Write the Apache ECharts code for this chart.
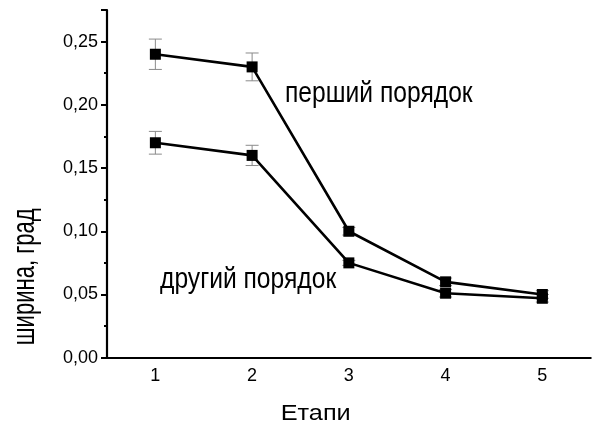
<!DOCTYPE html>
<html>
<head>
<meta charset="utf-8">
<style>
  html, body { margin: 0; padding: 0; background: #fff; }
  #chart { width: 592px; height: 427px; }
</style>
<script src="https://cdn.jsdelivr.net/npm/echarts@6/dist/echarts.min.js"></script>
</head>
<body>
<div id="chart"></div>
<script>
// Stages of the process (x axis categories)
const stages = ['1', '2', '3', '4', '5'];
// Line width, degrees: first order and its errors
const firstOrder = [0.24, 0.23, 0.10, 0.06, 0.05];
const firstErr = [0.012, 0.011, 0.003, 0.003, 0.003];
// Line width, degrees: second order and its errors
const secondOrder = [0.17, 0.16, 0.075, 0.051, 0.047];
const secondErr = [0.009, 0.008, 0.002, 0.003, 0.003];
// Y tick settings
const yMin = 0, yMax = 0.275, yStep = 0.05;

const FONT = "'Liberation Sans', Arial, sans-serif";

function errorBars(values, errs) {
  return {
    type: 'custom',
    z: 1,
    silent: true,
    data: values.map((v, i) => [i, v - errs[i], v + errs[i]]),
    renderItem: function (params, api) {
      const lo = api.coord([api.value(0), api.value(1)]);
      const hi = api.coord([api.value(0), api.value(2)]);
      const w = 6.5;
      const style = { stroke: '#8a8a8a', lineWidth: 1 };
      return {
        type: 'group',
        children: [
          { type: 'line', shape: { x1: lo[0], y1: lo[1], x2: hi[0], y2: hi[1] }, style: style },
          { type: 'line', shape: { x1: lo[0] - w, y1: lo[1], x2: lo[0] + w, y2: lo[1] }, style: style },
          { type: 'line', shape: { x1: hi[0] - w, y1: hi[1], x2: hi[0] + w, y2: hi[1] }, style: style }
        ]
      };
    }
  };
}

function lineSeries(values) {
  return {
    type: 'line',
    z: 3,
    data: values,
    symbol: 'rect',
    symbolSize: 11,
    showAllSymbol: true,
    itemStyle: { color: '#000' },
    lineStyle: { color: '#000', width: 2.6 },
    animation: false
  };
}

const chart = echarts.init(document.getElementById('chart'), null, { renderer: 'canvas' });
chart.setOption({
  animation: false,
  backgroundColor: '#fff',
  grid: { left: 107, right: 1.3, top: 10, bottom: 69.3 },
  xAxis: [
    {
      type: 'category',
      data: stages,
      boundaryGap: true,
      axisLine: { lineStyle: { color: '#000', width: 2.2 } },
      axisTick: { alignWithLabel: true, length: 7, lineStyle: { color: '#000', width: 2 } },
      axisLabel: { color: '#000', fontSize: 18, fontFamily: FONT, margin: 9 },
      splitLine: { show: false }
    },
    {
      // half-step ticks at band boundaries
      type: 'category',
      data: stages,
      position: 'bottom',
      boundaryGap: true,
      axisLine: { show: false },
      axisTick: { length: 4, lineStyle: { color: '#000', width: 2 } },
      axisLabel: { show: false },
      splitLine: { show: false }
    }
  ],
  yAxis: {
    type: 'value',
    min: yMin,
    max: yMax,
    interval: yStep,
    axisLine: { show: true, lineStyle: { color: '#000', width: 2.2 } },
    axisTick: { show: true, length: 6, lineStyle: { color: '#000', width: 2 } },
    minorTick: { show: true, splitNumber: 2, length: 3, lineStyle: { color: '#000', width: 2 } },
    axisLabel: {
      color: '#000', fontSize: 18, fontFamily: FONT, margin: 9,
      showMaxLabel: false,
      formatter: v => v.toFixed(2).replace('.', ',')
    },
    splitLine: { show: false }
  },
  series: [
    errorBars(firstOrder, firstErr),
    errorBars(secondOrder, secondErr),
    lineSeries(firstOrder),
    lineSeries(secondOrder)
  ],
  graphic: [
    {
      type: 'text', x: 285, y: 94, scaleX: 0.85,
      style: { text: 'перший порядок', fill: '#000', fontSize: 29, fontFamily: FONT, align: 'left', verticalAlign: 'middle' }
    },
    {
      type: 'text', x: 160, y: 280, scaleX: 0.85,
      style: { text: 'другий порядок', fill: '#000', fontSize: 29, fontFamily: FONT, align: 'left', verticalAlign: 'middle' }
    },
    {
      type: 'text', x: 315.7, y: 414, scaleX: 1.15,
      style: { text: 'Етапи', fill: '#000', fontSize: 22, fontFamily: FONT, align: 'center', verticalAlign: 'middle' }
    },
    {
      type: 'text', x: 25, y: 276.7, rotation: Math.PI / 2, scaleX: 0.69,
      style: { text: 'ширина, град', fill: '#000', fontSize: 32, fontFamily: FONT, align: 'center', verticalAlign: 'middle' }
    }
  ]
});
</script>
</body>
</html>
